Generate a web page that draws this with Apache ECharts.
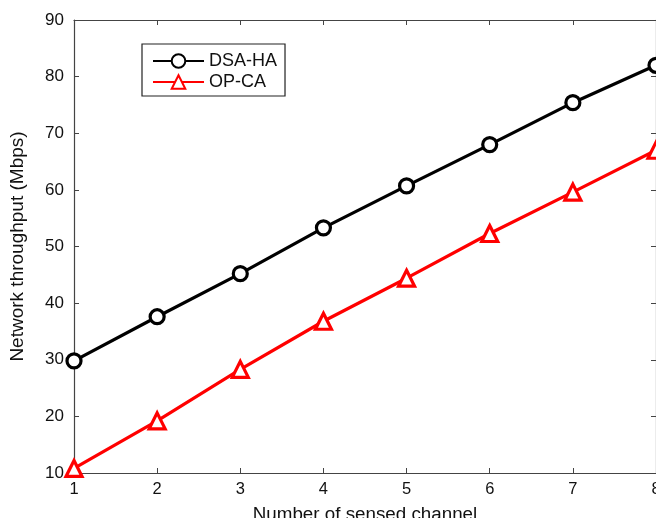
<!DOCTYPE html>
<html><head><meta charset="utf-8">
<script src="https://cdn.jsdelivr.net/npm/echarts@6/dist/echarts.min.js"></script>
<style>html,body{margin:0;padding:0;background:#fff}#c{width:656px;height:518px}</style>
</head><body><div id="c"></div>
<script>
const channels = [1, 2, 3, 4, 5, 6, 7, 8];
const dsaHA = [29.8, 37.6, 45.2, 53.3, 60.7, 68.0, 75.4, 82.0];
const opCA = [10.8, 19.2, 28.3, 36.8, 44.4, 52.3, 59.6, 67.0];
const xTicks = [1, 8, 1];
const yTicks = [10, 90, 10];

const font = 'Liberation Sans, Arial, sans-serif';
const axisCol = '#444';
const chart = echarts.init(document.getElementById('c'));
const pair = arr => channels.map((c, i) => [c, arr[i]]);
const boxAxis = {
  axisLine: {show: true, lineStyle: {color: axisCol, width: 1.2}},
  axisTick: {show: true, inside: true, length: 5, lineStyle: {color: axisCol}},
  splitLine: {show: false}
};
chart.setOption({
  animation: false,
  backgroundColor: '#fff',
  grid: {left: 74, top: 20, right: 0, bottom: 45, outerBoundsMode: 'none', containLabel: false},
  legend: {
    orient: 'vertical', left: 142, top: 44,
    itemWidth: 51, itemHeight: 17, itemGap: 3,
    padding: [8, 8, 5, 10],
    borderColor: '#222', borderWidth: 1.2,
    textStyle: {fontFamily: font, fontSize: 18, color: '#111'},
    data: ['DSA-HA', 'OP-CA']
  },
  xAxis: [
    Object.assign({type: 'value', min: xTicks[0], max: xTicks[1], interval: xTicks[2],
      name: 'Number of sensed channel', nameLocation: 'middle', nameGap: 32,
      nameTextStyle: {fontFamily: font, fontSize: 18.8, color: '#111'},
      axisLabel: {fontFamily: font, fontSize: 16.5, color: '#111', margin: 8}}, boxAxis),
    Object.assign({type: 'value', position: 'top', min: xTicks[0], max: xTicks[1], interval: xTicks[2],
      axisLabel: {show: false}}, boxAxis)
  ],
  yAxis: [
    Object.assign({type: 'value', min: yTicks[0], max: yTicks[1], interval: yTicks[2],
      name: 'Network throughput (Mbps)', nameLocation: 'middle', nameGap: 47,
      nameTextStyle: {fontFamily: font, fontSize: 19, color: '#111'},
      axisLabel: {fontFamily: font, fontSize: 17, color: '#111', margin: 10}}, boxAxis),
    Object.assign({type: 'value', position: 'right', min: yTicks[0], max: yTicks[1], interval: yTicks[2],
      axisLabel: {show: false}}, boxAxis)
  ],
  series: [
    {name: 'DSA-HA', type: 'line', data: pair(dsaHA), symbol: 'circle', symbolSize: 14,
     color: '#000', lineStyle: {color: '#000', width: 3.2},
     itemStyle: {color: '#fff', borderColor: '#000', borderWidth: 3.2}, clip: false},
    {name: 'OP-CA', type: 'line', data: pair(opCA), symbol: 'triangle', symbolSize: 16,
     color: '#f00', lineStyle: {color: '#f00', width: 3.2},
     itemStyle: {color: '#fff', borderColor: '#f00', borderWidth: 3.2}, clip: false}
  ]
});
</script></body></html>
